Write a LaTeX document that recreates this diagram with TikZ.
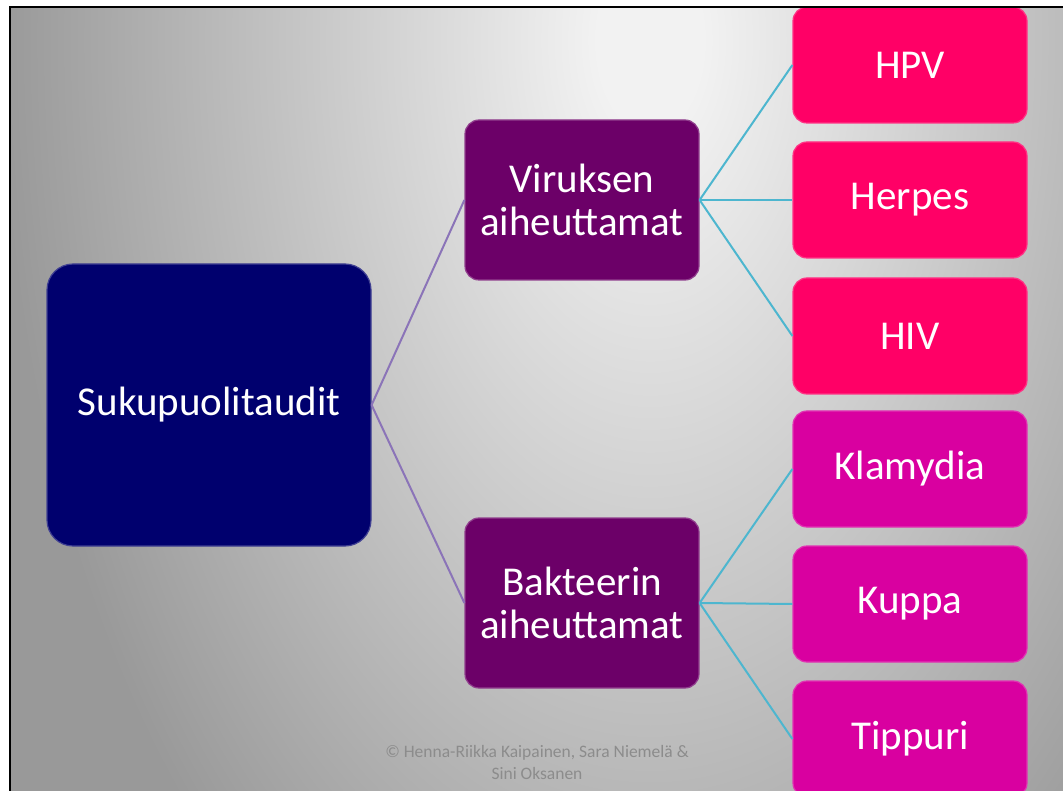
\documentclass[tikz,border=0pt]{standalone}
\usepackage{fontspec}
\setmainfont{Carlito}
\definecolor{bglight}{HTML}{F2F2F2}
\definecolor{bgdark}{HTML}{999999}
\definecolor{rootc}{HTML}{00006E}
\definecolor{midc}{HTML}{6C0068}
\definecolor{virc}{HTML}{FF0066}
\definecolor{bakc}{HTML}{D900A0}
\definecolor{linea}{HTML}{8B74B8}
\definecolor{lineb}{HTML}{4DB6CF}
\definecolor{footc}{HTML}{8C8C8C}
\pgfdeclareradialshading{bgshade}{\pgfpoint{0bp}{0bp}}{color(0bp)=(bglight); color(2bp)=(bglight); color(25bp)=(bgdark); color(50bp)=(bgdark)}
\tikzset{
  box/.style={rounded corners=14pt, text=white, align=center, inner sep=0pt,
    font=\fontsize{41}{43}\selectfont, line width=1.2pt},
  rootbox/.style={box, rounded corners=26pt, fill=rootc, draw=rootc!75!white,
    minimum width=324pt, minimum height=282pt},
  midbox/.style={box, fill=midc, draw=midc!75!white, minimum width=234pt},
  virbox/.style={box, fill=virc, draw=virc!80!white, minimum width=234pt, minimum height=116pt},
  bakbox/.style={box, fill=bakc, draw=bakc!80!white, minimum width=234pt, minimum height=116pt},
  conna/.style={draw=linea, line width=2pt},
  connb/.style={draw=lineb, line width=2pt},
  foot/.style={text=footc, align=center, inner sep=0pt, font=\fontsize{17.5}{22}\selectfont}
}
\begin{document}
\begin{tikzpicture}[x=1pt,y=-1pt]
\useasboundingbox (0,0) rectangle (1063,791);
\fill[white] (0,0) rectangle (1063,791);
\begin{scope}
\clip (10,7) rectangle (1063,791);
\fill[bgdark] (10,7) rectangle (1063,791);
\shade[shading=bgshade] (0,-1060) rectangle (1300,1140);
\node[rootbox] (root) at (209,405) {Sukupuolitaudit};
\node[midbox, minimum height=160pt] (vir) at (582,200) {Viruksen\\aiheuttamat};
\node[midbox, minimum height=170pt] (bak) at (582,603) {Bakteerin\\aiheuttamat};
\node[virbox] (hpv) at (910,65) {HPV};
\node[virbox] (herpes) at (910,200) {Herpes};
\node[virbox] (hiv) at (910,336) {HIV};
\node[bakbox] (klam) at (910,469) {Klamydia};
\node[bakbox] (kuppa) at (910,604) {Kuppa};
\node[bakbox] (tipp) at (910,739) {Tippuri};
\draw[conna] (root.east) -- (vir.west);
\draw[conna] (root.east) -- (bak.west);
\draw[connb] (vir.east) -- (hpv.west);
\draw[connb] (vir.east) -- (herpes.west);
\draw[connb] (vir.east) -- (hiv.west);
\draw[connb] (bak.east) -- (klam.west);
\draw[connb] (bak.east) -- (kuppa.west);
\draw[connb] (bak.east) -- (tipp.west);
\node[foot] (footer) at (537,762) {© Henna-Riikka Kaipainen, Sara Niemelä \&\\Sini Oksanen};
\end{scope}
\draw[line width=2pt] (10,791) -- (10,7) -- (1063,7);
\end{tikzpicture}
\end{document}
